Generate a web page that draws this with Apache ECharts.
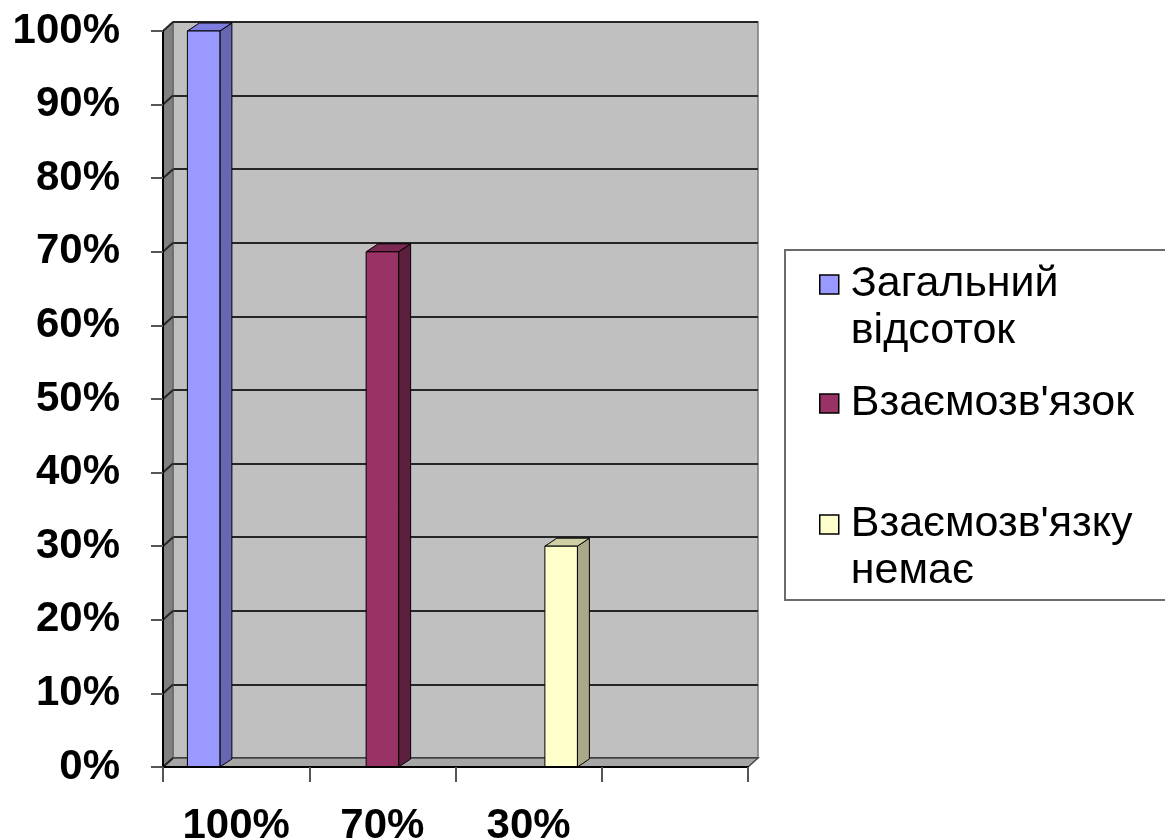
<!DOCTYPE html>
<html>
<head>
<meta charset="utf-8">
<script src="https://cdn.jsdelivr.net/npm/echarts@6/dist/echarts.min.js"></script>
<style>
  html, body { margin: 0; padding: 0; background: #ffffff; }
  #chart { width: 1165px; height: 840px; }
</style>
</head>
<body>
<div id="chart"></div>
<script>
// Categories along the bottom axis (the last slot is left empty)
const categories = ['100%', '70%', '30%', ''];
// Series names as shown in the legend
const seriesNames = ['Загальний\nвідсоток', 'Взаємозв\'язок', 'Взаємозв\'язку\nнемає'];
// Series values, in percent
const overallValues = [100, null, null, null];
const linkValues = [null, 70, null, null];
const noLinkValues = [null, null, 30, null];
// Value axis ticks
const yTicks = [0, 10, 20, 30, 40, 50, 60, 70, 80, 90, 100];

const seriesValues = [overallValues, linkValues, noLinkValues];
const barColors = [
  { front: '#9999ff', side: '#6666b3', top: '#7d7de0' },
  { front: '#993366', side: '#5c1f3d', top: '#7a2952' },
  { front: '#ffffcc', side: '#a9a98a', top: '#cfcfa6' }
];

const FONT = '"Liberation Sans", Arial, Helvetica, sans-serif';
// 3D projection offsets (pixels)
const WALL_DX = 10, WALL_DY = 9;
const BAR_DX = 12, BAR_DY = 8;

const chart = echarts.init(document.getElementById('chart'), null, { renderer: 'canvas' });

// Left wall and floor of the 3D box
function renderWalls(params, api) {
  const cs = params.coordSys;
  const x0 = cs.x, y0 = cs.y, x1 = cs.x + cs.width, y1 = cs.y + cs.height;
  return {
    type: 'group',
    children: [
      {
        type: 'polygon',
        shape: { points: [[x0, y1], [x0, y0], [x0 + WALL_DX, y0 - WALL_DY], [x0 + WALL_DX, y1 - WALL_DY]] },
        style: { fill: '#808080', stroke: '#5a5a5a', lineWidth: 1 }
      },
      {
        type: 'polygon',
        shape: { points: [[x0, y1], [x1, y1], [x1 + WALL_DX, y1 - WALL_DY], [x0 + WALL_DX, y1 - WALL_DY]] },
        style: { fill: '#a6a6a6', stroke: '#4a4a4a', lineWidth: 1.5 }
      }
    ]
  };
}

// Grid lines running across the left wall
function renderWallGrid(params, api) {
  const cs = params.coordSys;
  const y = api.coord([0, api.value(1)])[1];
  return {
    type: 'line',
    shape: { x1: cs.x, y1: y, x2: cs.x + WALL_DX, y2: y - WALL_DY },
    style: { stroke: '#262626', lineWidth: 2 }
  };
}

// A 3D column: front face, right side and top
function makeBarRenderer(k) {
  const col = barColors[k];
  return function (params, api) {
    const i = api.value(0);
    const v = api.value(1);
    const band = api.size([1, 0])[0];
    const w = band / 4.5;
    const c = api.coord([i, v]);
    const b = api.coord([i, 0]);
    const left = c[0] - 1.5 * w + k * w;
    const right = left + w;
    const topY = c[1];
    const botY = b[1];
    return {
      type: 'group',
      children: [
        {
          type: 'polygon',
          shape: { points: [[right, topY], [right + BAR_DX, topY - BAR_DY], [right + BAR_DX, botY - BAR_DY], [right, botY]] },
          style: { fill: col.side, stroke: '#000', lineWidth: 1 }
        },
        {
          type: 'polygon',
          shape: { points: [[left, topY], [left + BAR_DX, topY - BAR_DY], [right + BAR_DX, topY - BAR_DY], [right, topY]] },
          style: { fill: col.top, stroke: '#000', lineWidth: 1 }
        },
        {
          type: 'rect',
          shape: { x: left, y: topY, width: w, height: botY - topY },
          style: { fill: col.front, stroke: '#000', lineWidth: 1 }
        }
      ]
    };
  };
}

const barSeries = seriesValues.map((vals, k) => ({
  name: seriesNames[k],
  type: 'custom',
  xAxisIndex: 0,
  yAxisIndex: 0,
  renderItem: makeBarRenderer(k),
  itemStyle: { color: barColors[k].front },
  encode: { x: 0, y: 1 },
  data: vals.map((v, i) => (v == null ? null : [i, v])).filter(d => d !== null),
  z: 4
}));

const legendBase = {
  orient: 'vertical',
  left: 819,
  padding: 0,
  icon: 'rect',
  itemWidth: 19,
  itemHeight: 19,
  selectedMode: false,
  itemStyle: { borderColor: '#000', borderWidth: 1.5 },
  // keep the marker level with the first line of a two-line name
  formatter: name => (name.indexOf('\n') >= 0 ? '\n' + name : name),
  textStyle: {
    fontFamily: FONT,
    fontSize: 43,
    color: '#000',
    lineHeight: 47,
    padding: [0, 0, 0, 7]
  }
};

const option = {
  animation: false,
  backgroundColor: '#ffffff',
  grid: [
    { left: 163, top: 31, width: 585, height: 736, outerBoundsMode: 'none', containLabel: false },
    {
      left: 163 + WALL_DX, top: 31 - WALL_DY, width: 585, height: 736,
      outerBoundsMode: 'none', containLabel: false,
      show: true, backgroundColor: '#c0c0c0', borderColor: '#7a7a7a', borderWidth: 1.5
    }
  ],
  xAxis: [
    {
      gridIndex: 0,
      type: 'category',
      data: categories,
      boundaryGap: true,
      z: 6,
      axisLine: { show: true, lineStyle: { color: '#000', width: 2 } },
      axisTick: { show: true, length: 15, lineStyle: { color: '#555', width: 2 } },
      axisLabel: { fontFamily: FONT, fontSize: 42, fontWeight: 'bold', color: '#000', margin: 38 },
      splitLine: { show: false }
    },
    {
      gridIndex: 1,
      type: 'category',
      data: categories,
      show: false
    }
  ],
  yAxis: [
    {
      gridIndex: 0,
      type: 'value',
      min: yTicks[0],
      max: yTicks[yTicks.length - 1],
      interval: yTicks[1] - yTicks[0],
      z: 6,
      axisLine: { show: true, lineStyle: { color: '#000', width: 2 } },
      axisTick: { show: true, length: 12, lineStyle: { color: '#555', width: 2 } },
      axisLabel: { formatter: '{value}%', fontFamily: FONT, fontSize: 42, fontWeight: 'bold', color: '#000', margin: 43 },
      splitLine: { show: false }
    },
    {
      gridIndex: 1,
      type: 'value',
      min: yTicks[0],
      max: yTicks[yTicks.length - 1],
      interval: yTicks[1] - yTicks[0],
      axisLine: { show: false },
      axisTick: { show: false },
      axisLabel: { show: false },
      splitLine: { show: true, lineStyle: { color: '#262626', width: 2 } }
    }
  ],
  legend: [
    Object.assign({}, legendBase, { top: 214, data: [seriesNames[0]] }),
    Object.assign({}, legendBase, { top: 380, data: [seriesNames[1]] }),
    Object.assign({}, legendBase, { top: 454, data: [seriesNames[2]] })
  ],
  graphic: [
    {
      type: 'rect',
      shape: { x: 785, y: 250, width: 400, height: 350 },
      style: { fill: 'none', stroke: '#6b6b6b', lineWidth: 2 }
    }
  ],
  series: [
    {
      name: 'walls',
      type: 'custom',
      xAxisIndex: 0,
      yAxisIndex: 0,
      renderItem: renderWalls,
      data: [[0, 0]],
      silent: true,
      z: 2
    },
    {
      name: 'wallGrid',
      type: 'custom',
      xAxisIndex: 0,
      yAxisIndex: 0,
      renderItem: renderWallGrid,
      encode: { x: 0, y: 1 },
      data: yTicks.map(v => [0, v]),
      silent: true,
      z: 3
    }
  ].concat(barSeries)
};

chart.setOption(option);
</script>
</body>
</html>
